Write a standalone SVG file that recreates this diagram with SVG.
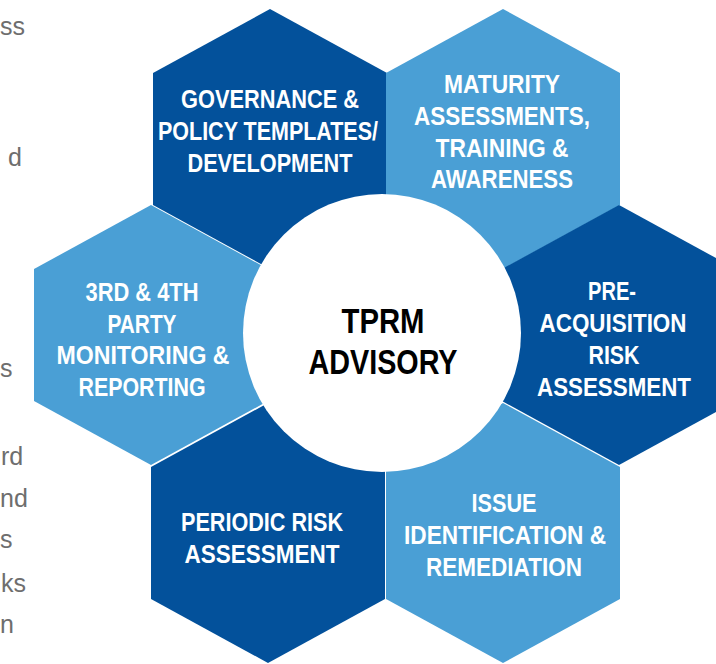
<svg xmlns="http://www.w3.org/2000/svg" width="716" height="664" viewBox="0 0 716 664">
  <style>
    .dark { fill: #03519B; }
    .light { fill: #4A9FD5; }
    .lbl { font-family: "Liberation Sans", Arial, sans-serif; font-weight: bold; font-size: 25px; fill: #FFFFFF; text-anchor: middle; }
    .ctr { font-family: "Liberation Sans", Arial, sans-serif; font-weight: bold; font-size: 35px; fill: #000000; text-anchor: middle; }
    .frag { font-family: "Liberation Sans", Arial, sans-serif; font-size: 25px; fill: #6E6E6E; text-anchor: start; }
  </style>
  <rect x="0" y="0" width="716" height="664" fill="#FFFFFF"/>

  <g id="body-text-fragments">
    <text class="frag" x="0" y="35">ss</text>
    <text class="frag" x="8" y="166">d</text>
    <text class="frag" x="0" y="377">s</text>
    <text class="frag" x="1" y="465">rd</text>
    <text class="frag" x="0" y="507">nd</text>
    <text class="frag" x="0" y="548">s</text>
    <text class="frag" x="1" y="592">ks</text>
    <text class="frag" x="0" y="633">n</text>
  </g>

  <g id="connectors"></g>

  <g id="node-governance">
    <polygon class="dark" points="270,9 387,73 387,205 270,269 153,205 153,73"/>
    <text class="lbl" x="270" y="108" textLength="178" lengthAdjust="spacingAndGlyphs">GOVERNANCE &amp;</text>
    <text class="lbl" x="268" y="140" textLength="220" lengthAdjust="spacingAndGlyphs">POLICY TEMPLATES/</text>
    <text class="lbl" x="270" y="172" textLength="165" lengthAdjust="spacingAndGlyphs">DEVELOPMENT</text>
  </g>

  <g id="node-maturity">
    <polygon class="light" points="503,9 620,73 620,205 503,269 386,205 386,73"/>
    <text class="lbl" x="502" y="93" textLength="116" lengthAdjust="spacingAndGlyphs">MATURITY</text>
    <text class="lbl" x="502" y="125" textLength="176" lengthAdjust="spacingAndGlyphs">ASSESSMENTS,</text>
    <text class="lbl" x="502" y="157" textLength="133" lengthAdjust="spacingAndGlyphs">TRAINING &amp;</text>
    <text class="lbl" x="502" y="188" textLength="142" lengthAdjust="spacingAndGlyphs">AWARENESS</text>
  </g>

  <g id="node-monitoring">
    <polygon class="light" points="151,205 268,269 268,401 151,465 34,401 34,269"/>
    <text class="lbl" x="142" y="301" textLength="113" lengthAdjust="spacingAndGlyphs">3RD &amp; 4TH</text>
    <text class="lbl" x="142" y="333" textLength="69" lengthAdjust="spacingAndGlyphs">PARTY</text>
    <text class="lbl" x="143" y="364" textLength="173" lengthAdjust="spacingAndGlyphs">MONITORING &amp;</text>
    <text class="lbl" x="142" y="396" textLength="127" lengthAdjust="spacingAndGlyphs">REPORTING</text>
  </g>

  <g id="node-preacquisition">
    <polygon class="dark" points="619,205 736,269 736,401 619,465 502,401 502,269"/>
    <text class="lbl" x="612" y="300" textLength="48" lengthAdjust="spacingAndGlyphs">PRE-</text>
    <text class="lbl" x="613" y="332" textLength="147" lengthAdjust="spacingAndGlyphs">ACQUISITION</text>
    <text class="lbl" x="614" y="364" textLength="51" lengthAdjust="spacingAndGlyphs">RISK</text>
    <text class="lbl" x="614" y="396" textLength="154" lengthAdjust="spacingAndGlyphs">ASSESSMENT</text>
  </g>

  <g id="node-periodic">
    <polygon class="dark" points="268,403 385,467 385,599 268,663 151,599 151,467"/>
    <text class="lbl" x="262" y="531" textLength="162" lengthAdjust="spacingAndGlyphs">PERIODIC RISK</text>
    <text class="lbl" x="262" y="563" textLength="155" lengthAdjust="spacingAndGlyphs">ASSESSMENT</text>
  </g>

  <g id="node-issue">
    <polygon class="light" points="503,403 620,467 620,599 503,663 386,599 386,467"/>
    <text class="lbl" x="504" y="512" textLength="65" lengthAdjust="spacingAndGlyphs">ISSUE</text>
    <text class="lbl" x="505" y="544" textLength="202" lengthAdjust="spacingAndGlyphs">IDENTIFICATION &amp;</text>
    <text class="lbl" x="504" y="576" textLength="156" lengthAdjust="spacingAndGlyphs">REMEDIATION</text>
  </g>

  <g id="node-center">
    <circle cx="382" cy="333" r="139" fill="#FFFFFF"/>
    <text class="ctr" x="383" y="333" textLength="83" lengthAdjust="spacingAndGlyphs">TPRM</text>
    <text class="ctr" x="383" y="374" textLength="149" lengthAdjust="spacingAndGlyphs">ADVISORY</text>
  </g>
</svg>
